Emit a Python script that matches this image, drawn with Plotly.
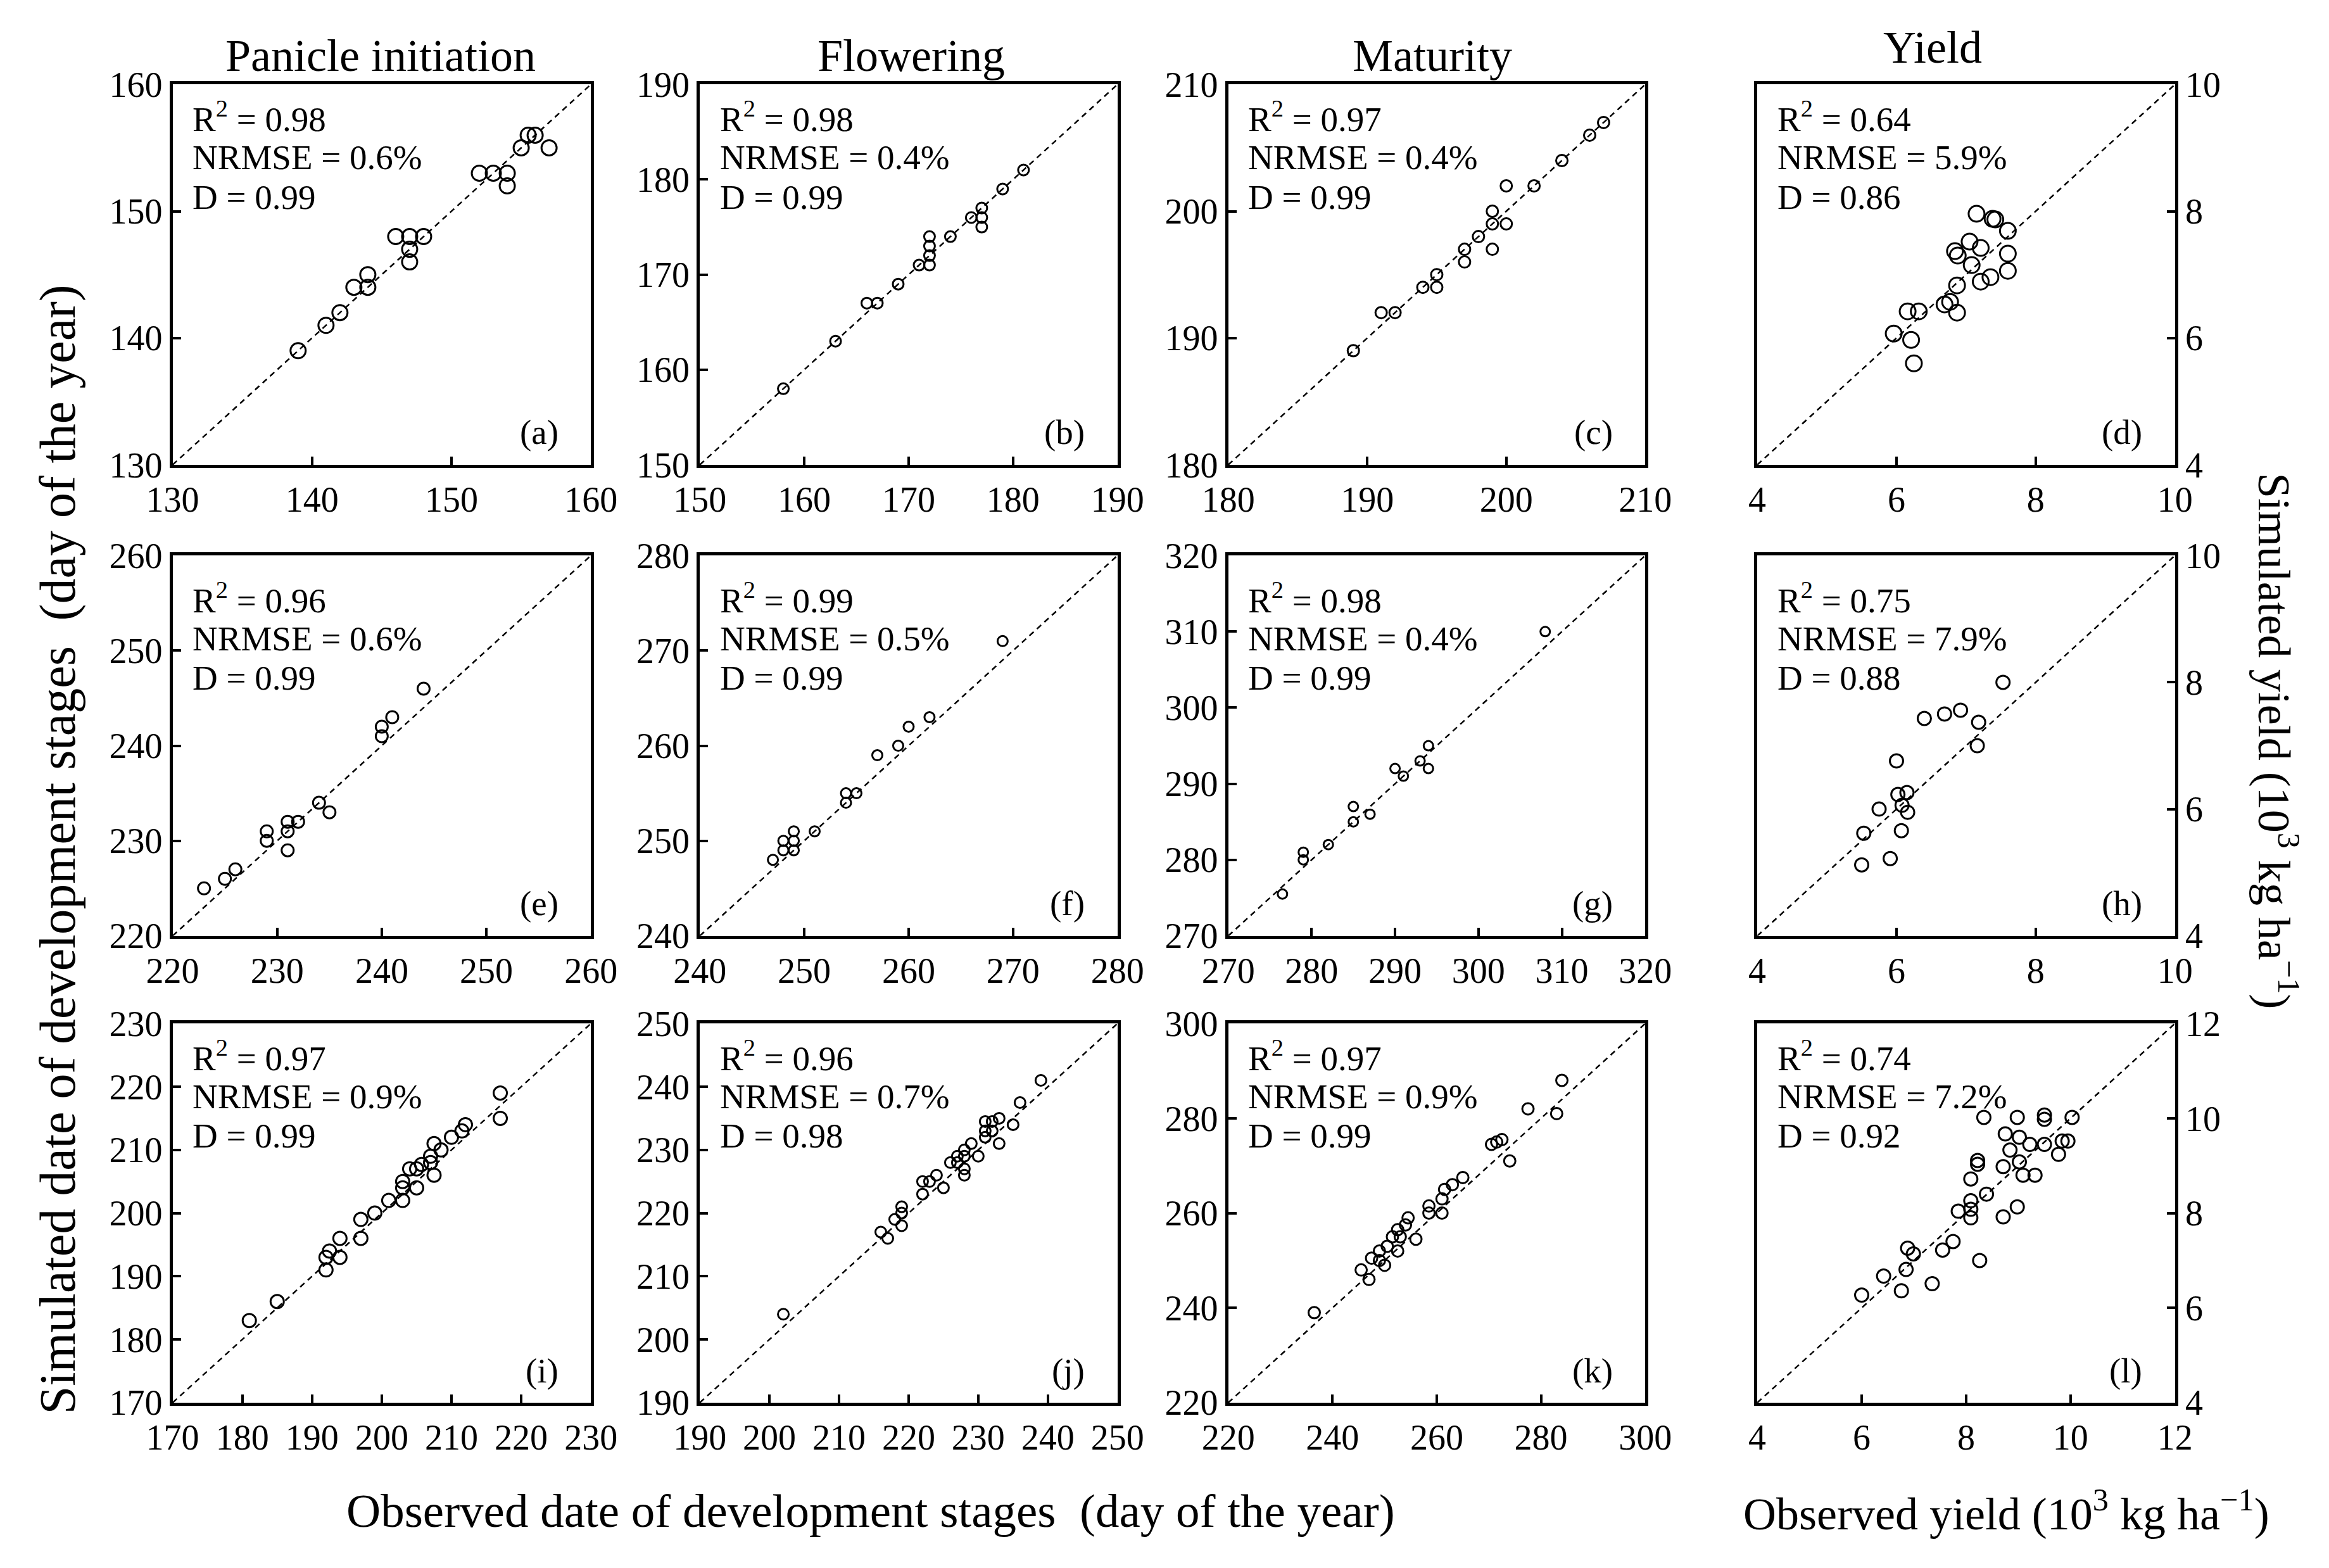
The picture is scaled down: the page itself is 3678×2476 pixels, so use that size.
import plotly.graph_objects as go

W, H = 3678, 2476
FONT = "Liberation Serif"

# ---------------- data (observed, simulated) ----------------
a_obs = [139, 141, 142, 143, 144, 144, 146, 147, 148, 147, 147, 152, 153, 154, 154, 155, 155.5, 156, 157]
a_sim = [139, 141, 142, 144, 145, 144, 148, 148, 148, 147, 146, 153, 153, 153, 152, 155, 156, 156, 155]

b_obs = [158, 163, 166, 167, 169, 171, 172, 172, 172, 172, 174, 176, 177, 177, 177, 179, 181]
b_sim = [158, 163, 167, 167, 169, 171, 171, 172, 173, 174, 174, 176, 177, 176, 175, 179, 181]

c_obs = [189, 191, 192, 194, 195, 195, 197, 197, 198, 199, 199, 199, 200, 200, 202, 204, 206, 207]
c_sim = [189, 192, 192, 194, 194, 195, 196, 197, 198, 197, 199, 200, 199, 202, 202, 204, 206, 207]

d_obs = [7.15, 7.38, 7.42, 7.6, 7.05, 7.21, 6.84, 6.88, 7.6, 7.08, 7.6, 7.35, 7.21, 6.87, 6.77, 6.69, 6.87, 6.16, 6.32, 5.96, 6.21, 6.25]
d_sim = [7.96, 7.88, 7.87, 7.69, 7.52, 7.42, 7.37, 7.3, 7.33, 7.15, 7.06, 6.96, 6.89, 6.83, 6.57, 6.53, 6.40, 6.42, 6.42, 6.07, 5.97, 5.6]

e_obs = [223, 225, 226, 229, 229, 231, 231, 231, 232, 234, 235, 240, 240, 241, 244]
e_sim = [225, 226, 227, 231, 230, 232, 231, 229, 232, 234, 233, 242, 241, 243, 246]

f_obs = [247, 248, 248, 249, 249, 249, 251, 254, 254, 255, 257, 259, 260, 262, 269]
f_sim = [248, 249, 250, 249, 250, 251, 251, 254, 255, 255, 259, 260, 262, 263, 271]

g_obs = [276.5, 279, 279, 282, 285, 285, 287, 290, 291, 293, 294, 294, 308]
g_sim = [275.5, 280, 281, 282, 285, 287, 286, 292, 291, 293, 295, 292, 310]

h_obs = [7.53, 6.92, 6.69, 6.40, 7.18, 7.16, 6.0, 6.15, 6.02, 5.75, 6.16, 6.08, 5.53, 6.07, 5.91, 5.5]
h_sim = [8.0, 7.56, 7.50, 7.43, 7.37, 7.0, 6.76, 6.26, 6.23, 6.0, 5.95, 6.06, 5.62, 5.66, 5.22, 5.12]

i_obs = [181, 185, 192, 192, 192.5, 194, 194, 197, 197, 199, 201, 203, 203, 203, 204, 205, 205, 205.7,
         207, 207, 207.5, 207.5, 208.5, 210, 211.5, 212, 217, 217]
i_sim = [183, 186, 191, 193, 194, 193, 196, 196, 199, 200, 202, 202, 204, 205, 207, 207, 204, 207.7,
         209, 208, 206, 211, 210, 212, 213, 214, 215, 219]

j_obs = [202, 216, 217, 218, 219, 219, 219, 222, 222, 223, 224, 225, 226, 227, 227, 228, 228, 228, 228,
         229, 230, 231, 231, 231, 232, 232, 233, 233, 235, 236, 239]
j_sim = [204, 217, 216, 219, 221, 220, 218, 225, 223, 225, 226, 224, 228, 229, 228, 230, 229, 227, 226,
         231, 229, 234.5, 233, 232, 234.5, 233, 235, 231, 234, 237.5, 241]

k_obs = [236.5, 245.5, 247, 247.5, 249, 249, 250, 250.5, 251.5, 252.5, 252.5, 253, 254, 254.5, 256,
         258.5, 258.5, 261, 261, 261.5, 263, 265, 270.5, 271.5, 272.5, 274, 277.5, 283, 284]
k_sim = [239, 248, 246, 250.5, 250, 252, 249, 253, 255, 252, 256.5, 255, 257.5, 259, 254.5,
         261.5, 260, 260, 263, 265, 266, 267.5, 274.5, 275, 275.5, 271, 282, 281, 288]

l_obs = [6.0, 6.42, 6.76, 6.85, 6.88, 6.99, 7.35, 7.55, 7.75, 7.85, 8.09, 8.09, 8.09, 8.26, 8.39, 8.09,
         8.22, 8.22, 8.34, 8.71, 8.98, 8.71, 9.02, 9.09, 9.32, 8.84, 8.75, 9.02, 9.22, 9.5, 8.98, 9.5,
         9.5, 9.77, 9.84, 9.95, 10.03]
l_sim = [6.27, 6.67, 6.36, 6.81, 7.26, 7.14, 6.51, 7.22, 7.40, 8.04, 8.08, 7.9, 8.26, 7.0, 8.4, 8.72,
         9.03, 9.11, 10.02, 7.92, 8.13, 8.98, 9.08, 8.8, 8.8, 9.33, 9.67, 9.6, 9.45, 9.45, 10.02, 10.07,
         9.98, 9.24, 9.52, 9.52, 10.02]

# axis ranges and tick steps
ranges = [(130, 160), (150, 190), (180, 210), (4, 10),
          (220, 260), (240, 280), (270, 320), (4, 10),
          (170, 230), (190, 250), (220, 300), (4, 12)]
dticks = [10, 10, 10, 2, 10, 10, 10, 2, 10, 10, 20, 2]

# statistics text
r2_vals = ["0.98", "0.98", "0.97", "0.64", "0.96", "0.99", "0.98", "0.75", "0.97", "0.96", "0.97", "0.74"]
nrmse_vals = ["0.6%", "0.4%", "0.4%", "5.9%", "0.6%", "0.5%", "0.4%", "7.9%", "0.9%", "0.7%", "0.9%", "7.2%"]
d_vals = ["0.99", "0.99", "0.99", "0.86", "0.99", "0.99", "0.99", "0.88", "0.99", "0.98", "0.99", "0.92"]
labels = ["(a)", "(b)", "(c)", "(d)", "(e)", "(f)", "(g)", "(h)", "(i)", "(j)", "(k)", "(l)"]

col_titles = ["Panicle initiation", "Flowering", "Maturity", "Yield"]

obs_all = [a_obs, b_obs, c_obs, d_obs, e_obs, f_obs, g_obs, h_obs, i_obs, j_obs, k_obs, l_obs]
sim_all = [a_sim, b_sim, c_sim, d_sim, e_sim, f_sim, g_sim, h_sim, i_sim, j_sim, k_sim, l_sim]

# ---------------- layout geometry (pixels) ----------------
col_px = [(236, 912), (1088, 1763), (1942, 2616), (2797, 3472)]
row_px = [(106, 722), (869, 1485), (1627, 2241)]
marker_sizes = [24, 17, 18, 25, 19, 16, 15, 21, 21, 17, 18, 21]

fig = go.Figure()
annotations = []
layout_axes = {}

for idx in range(12):
    r, c = divmod(idx, 4)
    n = idx + 1
    xname = "x" if n == 1 else f"x{n}"
    yname = "y" if n == 1 else f"y{n}"
    lo, hi = ranges[idx]

    fig.add_trace(go.Scatter(
        x=[lo, hi], y=[lo, hi], mode="lines",
        line=dict(color="black", width=2.5, dash="9px,7px"),
        xaxis=xname, yaxis=yname, hoverinfo="skip", showlegend=False))
    fig.add_trace(go.Scatter(
        x=obs_all[idx], y=sim_all[idx], mode="markers",
        marker=dict(symbol="circle-open", size=marker_sizes[idx], color="black",
                    line=dict(width=3, color="black")),
        xaxis=xname, yaxis=yname, showlegend=False))

    l_, r_ = col_px[c]
    t_, b_ = row_px[r]
    common = dict(
        range=[lo, hi], tickmode="linear", tick0=lo, dtick=dticks[idx],
        ticks="inside", ticklen=13, tickwidth=4, tickcolor="black",
        showline=True, linewidth=5, linecolor="black", mirror=True,
        showgrid=False, zeroline=False, fixedrange=True,
        tickfont=dict(family=FONT, size=56, color="black"),
    )
    xkey = "xaxis" if n == 1 else f"xaxis{n}"
    ykey = "yaxis" if n == 1 else f"yaxis{n}"
    layout_axes[xkey] = dict(common, domain=[l_ / W, r_ / W], anchor=yname,
                             ticklabelstandoff=2)
    layout_axes[ykey] = dict(common, domain=[1 - b_ / H, 1 - t_ / H], anchor=xname,
                             side="right" if c == 3 else "left",
                             ticklabelstandoff=0)

    # statistics
    ys = [0.914, 0.808, 0.704] if r != 1 else [0.888, 0.782, 0.678]
    texts = [f"R<sup>2</sup> = {r2_vals[idx]}", f"NRMSE = {nrmse_vals[idx]}", f"D = {d_vals[idx]}"]
    for yy, tt in zip(ys, texts):
        annotations.append(dict(
            text=tt, xref=f"{xname} domain", yref=f"{yname} domain",
            x=0.045, y=yy, xanchor="left", yanchor="middle", showarrow=False,
            font=dict(family=FONT, size=55, color="black")))
    annotations.append(dict(
        text=labels[idx], xref=f"{xname} domain", yref=f"{yname} domain",
        x=0.925, y=0.085, xanchor="right", yanchor="middle", showarrow=False,
        font=dict(family=FONT, size=55, color="black")))

# column titles
title_x = [572, 1430, 2272, 3080]
title_y = [60, 60, 60, 46]
for tx, ty, tt in zip(title_x, title_y, col_titles):
    annotations.append(dict(text=tt, xref="paper", yref="paper", x=tx / W, y=1 - ty / H,
                            xanchor="center", yanchor="middle", showarrow=False,
                            font=dict(family=FONT, size=72, color="black")))

# axis titles
annotations.append(dict(text="Observed date of development stages\u00a0 (day of the year)",
                        xref="paper", yref="paper", x=1364 / W, y=1 - 2416 / H,
                        xanchor="center", yanchor="middle", showarrow=False,
                        font=dict(family=FONT, size=75, color="black")))
annotations.append(dict(text="Observed yield (10<sup>3</sup> kg ha<sup>\u22121</sup>)",
                        xref="paper", yref="paper", x=3200 / W, y=1 - 2416 / H,
                        xanchor="center", yanchor="middle", showarrow=False,
                        font=dict(family=FONT, size=72, color="black")))
annotations.append(dict(text="Simulated date of development stages\u00a0 (day of the year)",
                        xref="paper", yref="paper", x=50 / W, y=1 - 1345 / H,
                        xanchor="center", yanchor="middle", showarrow=False, textangle=-90,
                        font=dict(family=FONT, size=80, color="black")))
annotations.append(dict(text="Simulated yield (10<sup>3</sup> kg ha<sup>\u22121</sup>)",
                        xref="paper", yref="paper", x=3638 / W, y=1 - 1170 / H,
                        xanchor="center", yanchor="middle", showarrow=False, textangle=90,
                        font=dict(family=FONT, size=72, color="black")))

fig.update_layout(
    width=W, height=H, autosize=False,
    margin=dict(l=0, r=0, t=0, b=0, pad=0),
    paper_bgcolor="white", plot_bgcolor="white",
    font=dict(family=FONT, color="black"),
    showlegend=False,
    annotations=annotations,
    **layout_axes,
)

fig.write_html("out.html", config={"displayModeBar": False},
               post_script="document.body.style.margin='0';document.body.style.overflow='hidden';")
